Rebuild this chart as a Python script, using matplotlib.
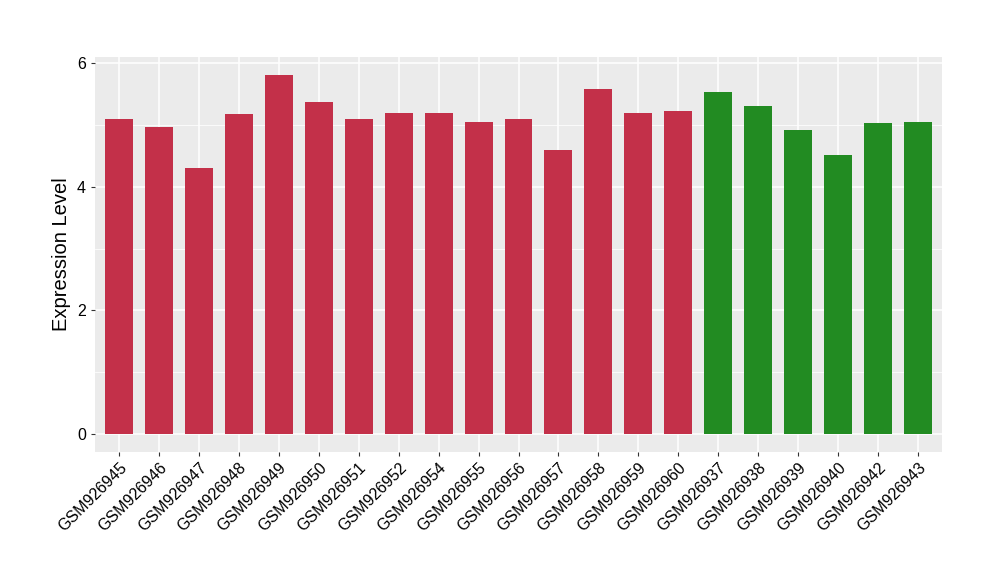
import matplotlib
matplotlib.use("Agg")
import matplotlib.pyplot as plt
import numpy as np

plt.rcParams['font.family'] = ['Liberation Sans', 'DejaVu Sans']

samples = ["GSM926945", "GSM926946", "GSM926947", "GSM926948", "GSM926949", "GSM926950",
           "GSM926951", "GSM926952", "GSM926954", "GSM926955", "GSM926956", "GSM926957",
           "GSM926958", "GSM926959", "GSM926960", "GSM926937", "GSM926938", "GSM926939",
           "GSM926940", "GSM926942", "GSM926943"]
values = [5.09, 4.97, 4.31, 5.18, 5.81, 5.38, 5.10, 5.20, 5.20, 5.05, 5.09, 4.59,
          5.59, 5.20, 5.23, 5.53, 5.30, 4.92, 4.52, 5.04, 5.05]
groups = ["A"] * 15 + ["B"] * 6
group_colors = {"A": "#C33049", "B": "#228B22"}

fig = plt.figure(figsize=(10, 5.8), dpi=100)
ax = fig.add_axes([0.095, 0.2207, 0.847, 0.681])
ax.set_facecolor("#EBEBEB")

x = np.arange(1, len(samples) + 1)
ax.bar(x, values, width=0.7, color=[group_colors[g] for g in groups], zorder=3)

ax.set_xlim(0.4, len(samples) + 0.6)
vmax = max(values)
ax.set_ylim(-0.05 * vmax, vmax * 1.05)

ax.set_yticks([0, 2, 4, 6])
ax.set_yticks([1, 3, 5], minor=True)
ax.set_xticks(x)
ax.set_xticklabels(samples, rotation=45, ha="right", rotation_mode="anchor", fontsize=11.5)
ax.tick_params(axis="y", labelsize=11.5, length=3, color="#333333", labelcolor="black")
ax.tick_params(axis="y", which="minor", length=0)
ax.tick_params(axis="x", length=3, color="#333333", labelcolor="black", pad=3)

ax.grid(which="major", color="white", linewidth=1.1, zorder=0)
ax.grid(which="minor", axis="y", color="white", linewidth=0.55, zorder=0)
ax.set_axisbelow(True)
for s in ax.spines.values():
    s.set_visible(False)

ax.set_ylabel("Expression Level", fontsize=14.5)

fig.savefig("out.png", dpi=100)
